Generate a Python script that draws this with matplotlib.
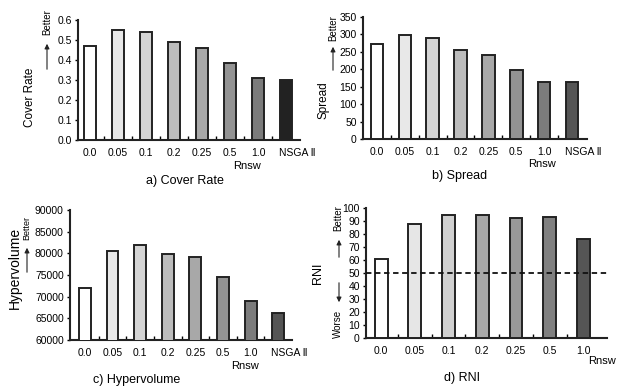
import matplotlib
matplotlib.use("Agg")
import matplotlib.pyplot as plt
import matplotlib.transforms as mtransforms
import numpy as np

plt.rcParams['font.family'] = ['Liberation Sans', 'DejaVu Sans']

labels8 = ['0.0', '0.05', '0.1', '0.2', '0.25', '0.5', '1.0', 'NSGA Ⅱ']
labels7 = labels8[:7]

cover_rate = [0.47, 0.55, 0.54, 0.49, 0.46, 0.385, 0.31, 0.30]
spread = [272, 298, 290, 255, 240, 198, 163, 164]
hypervolume = [72000, 80600, 82000, 79800, 79200, 74600, 69100, 66200]
rni = [61, 88, 95, 95, 92.5, 93, 76]

grays_a = ['#ffffff', '#e8e8e8', '#d4d4d4', '#bcbcbc', '#a8a8a8', '#939393', '#7c7c7c', '#222222']
grays_b = ['#ffffff', '#e8e8e8', '#d4d4d4', '#bcbcbc', '#a8a8a8', '#939393', '#7c7c7c', '#555555']
grays_d = ['#ffffff', '#e6e6e6', '#d0d0d0', '#a8a8a8', '#999999', '#808080', '#555555']

W, H = 619, 387
fig = plt.figure(figsize=(W / 100, H / 100), dpi=100)


def px_axes(left, top, right, bottom):
    return fig.add_axes([left / W, 1 - bottom / H, (right - left) / W, (bottom - top) / H])


def bar_panel(ax, vals, labels, colors, xlim, ylim, yticks, width):
    x = np.arange(len(vals))
    ax.bar(x, vals, width=width, color=colors, edgecolor='#222222', linewidth=1.4, zorder=3)
    ax.set_xlim(*xlim)
    ax.set_ylim(*ylim)
    ax.set_yticks(yticks)
    ax.set_xticks(x)
    ax.set_xticklabels(labels, fontsize=7.5)
    ax.set_xticks(np.arange(len(vals) - 1) + 0.5, minor=True)
    ax.tick_params(axis='x', which='major', length=0, pad=6)
    ax.tick_params(axis='x', which='minor', length=3, direction='in', width=1)
    ax.tick_params(axis='y', length=2.5, width=1, labelsize=7.5, pad=2)
    for s in ['top', 'right']:
        ax.spines[s].set_visible(False)
    for s in ['left', 'bottom']:
        ax.spines[s].set_linewidth(1.5)
        ax.spines[s].set_color('#222222')
    if labels[-1].startswith('NSGA'):
        lab = ax.get_xticklabels()[-1]
        lab.set_ha('left')
        lab.set_transform(lab.get_transform() +
                          mtransforms.ScaledTranslation(-7 / 100, 0, fig.dpi_scale_trans))


def arrow(x, y0, y1):
    fig.patches.append(matplotlib.patches.FancyArrowPatch(
        (x / W, 1 - y0 / H), (x / W, 1 - y1 / H), transform=fig.transFigure,
        arrowstyle='-|>', mutation_scale=7, color='#222222', lw=0.8))


def ftext(x, y, s, **kw):
    fig.text(x / W, 1 - y / H, s, ha='center', va='center', **kw)


# a) Cover Rate
ax = px_axes(78, 20, 300, 140)
bar_panel(ax, cover_rate, labels8, grays_a, (-0.43, 7.5), (0, 0.6),
          np.arange(0, 0.61, 0.1), 0.46)
ax.set_yticklabels(['%.1f' % v for v in np.arange(0, 0.61, 0.1)])
ftext(30, 97, 'Cover Rate', rotation=90, fontsize=8.5)
arrow(47, 72, 41)
ftext(47, 22, 'Better', rotation=90, fontsize=7)
ftext(247, 166, 'Rnsw', fontsize=8)
ftext(185, 181, 'a) Cover Rate', fontsize=9)

# b) Spread
ax = px_axes(363, 17, 587, 139)
bar_panel(ax, spread, labels8, grays_b, (-0.5, 7.54), (0, 350),
          np.arange(0, 351, 50), 0.45)
ftext(323, 100, 'Spread', rotation=90, fontsize=8.5)
arrow(333, 73, 44)
ftext(333, 28, 'Better', rotation=90, fontsize=7)
ftext(542, 164, 'Rnsw', fontsize=8)
ftext(460, 176, 'b) Spread', fontsize=9)

# c) Hypervolume
ax = px_axes(70, 210, 292, 340)
bar_panel(ax, hypervolume, labels8, grays_b, (-0.54, 7.5), (60000, 90000),
          np.arange(60000, 90001, 5000), 0.43)
ftext(15, 268, 'Hypervolume', rotation=90, fontsize=10)
arrow(27, 275, 245)
ftext(27, 228, 'Better', rotation=90, fontsize=6.5)
ftext(245, 366, 'Rnsw', fontsize=8)
ftext(137, 380, 'c) Hypervolume', fontsize=9)

# d) RNI
ax = px_axes(366, 208, 607, 338)
bar_panel(ax, rni, labels7, grays_d, (-0.45, 6.7), (0, 100),
          np.arange(0, 101, 10), 0.38)
ax.axhline(50, color='#111111', linestyle=(0, (3, 2)), linewidth=1.3, zorder=4)
ftext(318, 273, 'RNI', rotation=90, fontsize=9)
arrow(339, 260, 237)
arrow(339, 280, 305)
ftext(338, 218, 'Better', rotation=90, fontsize=7)
ftext(338, 324, 'Worse', rotation=90, fontsize=7)
ftext(602, 361, 'Rnsw', fontsize=8)
ftext(462, 378, 'd) RNI', fontsize=9)

fig.savefig('out.png', dpi=100)
